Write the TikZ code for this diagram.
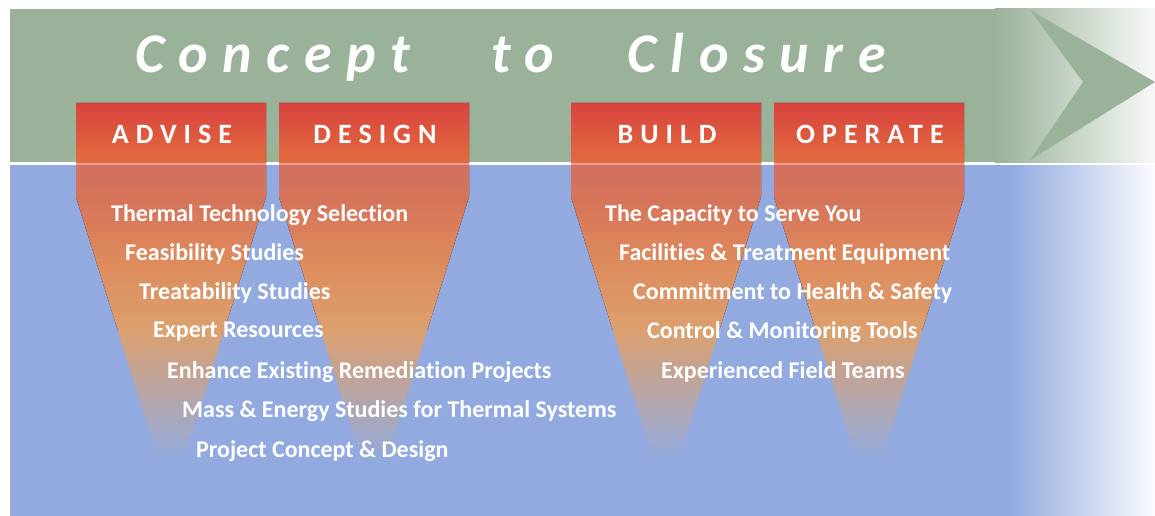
\documentclass[tikz,border=0pt]{standalone}
\usepackage{fontspec}
\setmainfont{Carlito}[Ligatures=NoCommon]
\definecolor{bandgreen}{RGB}{154,177,154}
\definecolor{skyblue}{RGB}{146,170,223}
\definecolor{fred}{RGB}{216,66,62}
\definecolor{forange}{RGB}{226,106,62}
\definecolor{fpink}{RGB}{211,112,96}
\definecolor{fsalmon}{RGB}{214,116,90}
\definecolor{fmid}{RGB}{222,138,92}
\definecolor{ftan}{RGB}{220,160,110}
% red on top, orange at the band edge, tan at the bottom
\pgfdeclareverticalshading{funnelshade}{100bp}{
    color(0bp)=(ftan); color(25bp)=(ftan); color(40.4bp)=(fmid);
    color(53.6bp)=(fsalmon); color(61.3bp)=(fpink); color(62.4bp)=(forange);
    color(75bp)=(fred); color(100bp)=(fred)
}
\tikzset{
    titletext/.style={anchor=base west, inner sep=0, text=white,
        font=\fontsize{56}{60}\selectfont\bfseries\itshape\addfontfeature{LetterSpace=26}},
    headtext/.style={anchor=base, inner sep=0, text=white,
        font=\fontsize{28}{30}\selectfont\bfseries\addfontfeature{LetterSpace=25}},
    itemtext/.style={anchor=west, inner sep=0, text=white,
        font=\fontsize{24}{28}\selectfont\bfseries}
}
% #1 node name, #2 left edge, #3 label
\newcommand{\funnel}[3]{
    \fill[shading=funnelshade] (#2, 103) -- (#2 + 190, 103) -- (#2 + 190, 197)
        -- (#2 + 148.3, 330) -- (#2 + 41.7, 330) -- (#2, 197) -- cycle;
    % narrow end, strip by strip into the blue
    \foreach \y in {330, 335, ..., 455} {
        \pgfmathsetmacro\halfa{95*(500 - \y)/303}
        \pgfmathsetmacro\halfb{95*(495 - \y)/303}
        \pgfmathsetmacro\mixed{max(0, 100 - 100*(\y - 327.5)/130)}
        \fill[ftan!\mixed!skyblue] (#2 + 95 - \halfa, \y) -- (#2 + 95 + \halfa, \y)
            -- (#2 + 95 + \halfb, \y + 5) -- (#2 + 95 - \halfb, \y + 5) -- cycle;
    }
    \node[headtext] (#1) at (#2 + 96, 143) {#3};
}

\begin{document}
\begin{tikzpicture}[x=1pt, y=-1pt]
    \useasboundingbox (0, 0) rectangle (1155, 516);
    % green band with its arrow
    \fill[bandgreen] (10, 9) rectangle (995, 162);
    \shade[left color=bandgreen, right color=white!92!bandgreen] (995, 9) rectangle (1155, 162);
    \fill[bandgreen] (1030, 10) -- (1155, 82) -- (1030, 160) -- (1083, 82) -- cycle;
    % blue field
    \fill[skyblue] (10, 165) rectangle (1010, 516);
    \shade[left color=skyblue, right color=white!96!skyblue] (1010, 165) rectangle (1155, 516);

    \funnel{advise}{76}{ADVISE}
    \funnel{design}{279}{DESIGN}
    \funnel{build}{571}{BUILD}
    \funnel{operate}{774}{OPERATE}
    \draw[white, opacity=0.35, line width=2pt] (76, 163.5) -- (964, 163.5);

    \node[titletext] (concept) at (135, 73) {Concept};
    \node[titletext] (to) at (491, 73) {to};
    \node[titletext] (closure) at (627, 73) {Closure};

    \node[itemtext] (thermal) at (111, 215) {Thermal Technology Selection};
    \node[itemtext] (feasibility) at (125, 254) {Feasibility Studies};
    \node[itemtext] (treatability) at (139, 293) {Treatability Studies};
    \node[itemtext] (expert) at (153, 332) {Expert Resources};
    \node[itemtext] (enhance) at (167, 372) {Enhance Existing Remediation Projects};
    \node[itemtext] (mass) at (182, 411) {Mass \& Energy Studies for Thermal Systems};
    \node[itemtext] (project) at (196, 451) {Project Concept \& Design};

    \node[itemtext] (capacity) at (605, 215) {The Capacity to Serve You};
    \node[itemtext] (facilities) at (619, 254) {Facilities \& Treatment Equipment};
    \node[itemtext] (commitment) at (633, 293) {Commitment to Health \& Safety};
    \node[itemtext] (control) at (647, 332) {Control \& Monitoring Tools};
    \node[itemtext] (experienced) at (661, 372) {Experienced Field Teams};
\end{tikzpicture}
\end{document}
